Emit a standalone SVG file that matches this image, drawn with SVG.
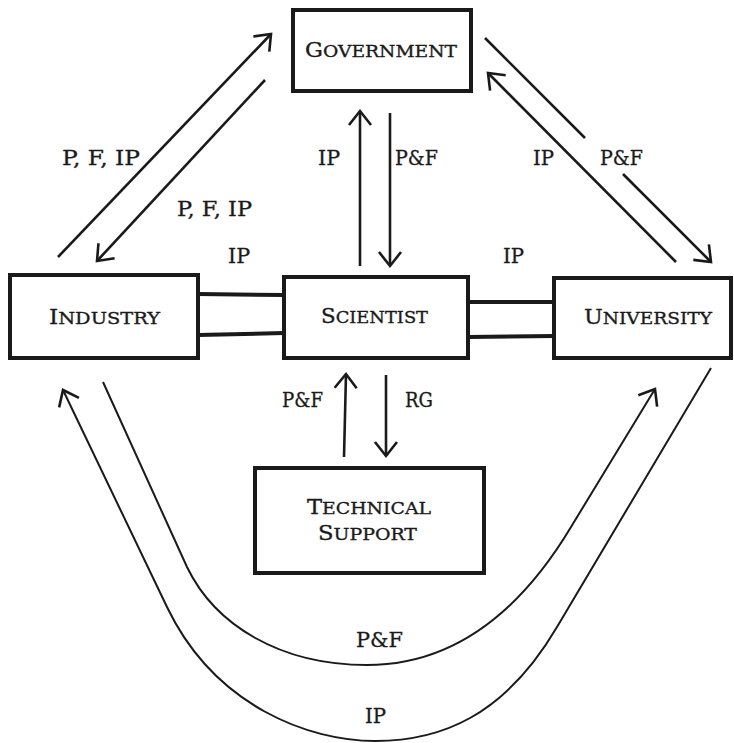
<svg xmlns="http://www.w3.org/2000/svg" width="734" height="743" viewBox="0 0 734 743">
<defs>
<style>
.box{fill:#fff;stroke:#1a1a1a;stroke-width:4}
.name{font-family:"DejaVu Serif","Liberation Serif",serif;fill:#1a1a1a;stroke:#1a1a1a;stroke-width:0.35}
.big{font-size:21px}
.sm{font-size:17.5px}
.lbl{font-family:"DejaVu Serif","Liberation Serif",serif;font-size:20px;fill:#1a1a1a;stroke:#1a1a1a;stroke-width:0.3}
.arr{fill:none;stroke:#1a1a1a;stroke-width:2.6;marker-end:url(#ah)}
.ln{fill:none;stroke:#1a1a1a;stroke-width:2.6}
.curve{fill:none;stroke:#1a1a1a;stroke-width:2}
.bar{stroke:#1a1a1a;stroke-width:4}
</style>
<marker id="ah" markerUnits="userSpaceOnUse" viewBox="-20 -15 24 30" refX="0" refY="0" markerWidth="24" markerHeight="30" orient="auto">
<path d="M -14 -11 L 0 0 L -14 11" fill="none" stroke="#1a1a1a" stroke-width="2.6"/>
</marker>
</defs>
<rect width="734" height="743" fill="#fff"/>

<g id="connectors">
<line class="arr" x1="58" y1="257" x2="271" y2="34"/>
<line class="arr" x1="265" y1="80" x2="97" y2="261"/>
<line class="arr" x1="360" y1="266" x2="360" y2="111"/>
<line class="arr" x1="390" y1="113" x2="390" y2="266"/>
<line class="arr" x1="676" y1="262" x2="488" y2="73"/>
<line class="ln" x1="485" y1="38" x2="585" y2="138"/>
<line class="arr" x1="623" y1="174" x2="711" y2="262"/>
<line class="arr" x1="344" y1="457" x2="346" y2="374"/>
<line class="arr" x1="386" y1="375" x2="386" y2="456"/>
<line class="bar" x1="198" y1="294" x2="284" y2="295"/>
<line class="bar" x1="198" y1="335" x2="284" y2="333"/>
<line class="bar" x1="468" y1="302" x2="554" y2="302"/>
<line class="bar" x1="468" y1="337" x2="554" y2="336"/>
<path class="curve" marker-end="url(#ah)" d="M 103 382 L 187 567 C 215 625 280 665 367 665 C 440 665 511 627 571 527 L 655 389"/>
<path class="curve" marker-end="url(#ah)" d="M 711 368 L 557 627 C 504 717 440 741 375 741 C 310 741 215 707 167 607 L 63 390"/>
</g>

<g id="government">
<rect class="box" x="293" y="10" width="178" height="81"/>
<text class="name" x="305" y="57" textLength="152" lengthAdjust="spacingAndGlyphs"><tspan class="big">G</tspan><tspan class="sm">OVERNMENT</tspan></text>
</g>
<g id="industry">
<rect class="box" x="10" y="275" width="188" height="83"/>
<text class="name" x="49" y="324" textLength="111" lengthAdjust="spacingAndGlyphs"><tspan class="big">I</tspan><tspan class="sm">NDUSTRY</tspan></text>
</g>
<g id="scientist">
<rect class="box" x="284" y="277" width="184" height="81"/>
<text class="name" x="321" y="323" textLength="107" lengthAdjust="spacingAndGlyphs"><tspan class="big">S</tspan><tspan class="sm">CIENTIST</tspan></text>
</g>
<g id="university">
<rect class="box" x="554" y="278" width="177" height="80"/>
<text class="name" x="584" y="324" textLength="128" lengthAdjust="spacingAndGlyphs"><tspan class="big">U</tspan><tspan class="sm">NIVERSITY</tspan></text>
</g>
<g id="technical-support">
<rect class="box" x="255" y="468" width="229" height="105"/>
<text class="name" x="307" y="514" textLength="124" lengthAdjust="spacingAndGlyphs"><tspan class="big">T</tspan><tspan class="sm">ECHNICAL</tspan></text>
<text class="name" x="318" y="540" textLength="99" lengthAdjust="spacingAndGlyphs"><tspan class="big">S</tspan><tspan class="sm">UPPORT</tspan></text>
</g>

<g id="labels">
<text class="lbl" x="62" y="165" textLength="78" lengthAdjust="spacingAndGlyphs">P, F, IP</text>
<text class="lbl" x="177" y="216" textLength="75" lengthAdjust="spacingAndGlyphs">P, F, IP</text>
<text class="lbl" x="228" y="263" textLength="22" lengthAdjust="spacingAndGlyphs">IP</text>
<text class="lbl" x="503" y="263" textLength="21" lengthAdjust="spacingAndGlyphs">IP</text>
<text class="lbl" x="318" y="165" textLength="22" lengthAdjust="spacingAndGlyphs">IP</text>
<text class="lbl" x="395" y="165" textLength="43" lengthAdjust="spacingAndGlyphs">P&amp;F</text>
<text class="lbl" x="533" y="165" textLength="21" lengthAdjust="spacingAndGlyphs">IP</text>
<text class="lbl" x="600" y="165" textLength="43" lengthAdjust="spacingAndGlyphs">P&amp;F</text>
<text class="lbl" x="282" y="407" textLength="41" lengthAdjust="spacingAndGlyphs">P&amp;F</text>
<text class="lbl" x="405" y="407" textLength="28" lengthAdjust="spacingAndGlyphs">RG</text>
<text class="lbl" x="356" y="647" textLength="47" lengthAdjust="spacingAndGlyphs">P&amp;F</text>
<text class="lbl" x="365" y="723" textLength="21" lengthAdjust="spacingAndGlyphs">IP</text>
</g>
</svg>
